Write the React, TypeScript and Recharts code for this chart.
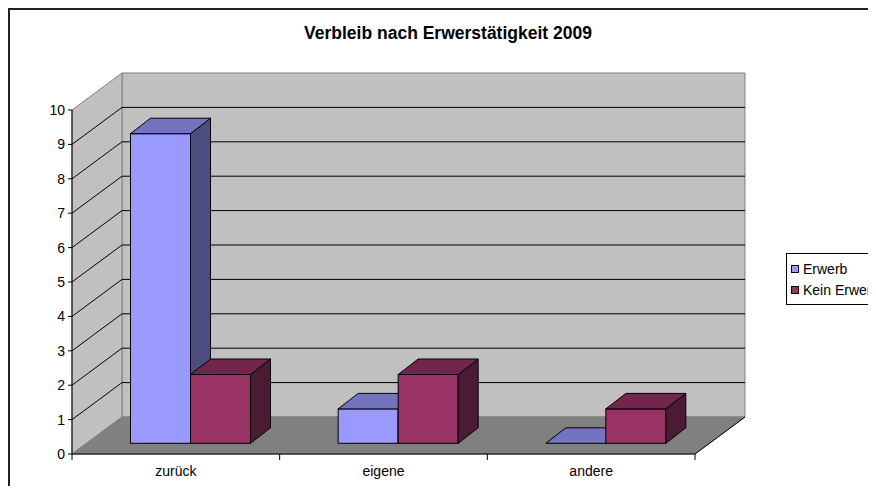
import React from 'react';
import { BarChart, Bar, XAxis, YAxis, Customized } from 'recharts';

const categories = ['zurück', 'eigene', 'andere'];
const erwerbValues = [9, 1, 0];
const keinErwerbValues = [2, 2, 1];
const seriesNames = ['Erwerb', 'Kein Erwerb'];
const yTicks = [0, 1, 2, 3, 4, 5, 6, 7, 8, 9, 10];
const title = 'Verbleib nach Erwerstätigkeit 2009';

const data = categories.map((c, i) => ({ name: c, erwerb: erwerbValues[i], kein: keinErwerbValues[i] }));

const FONT = 'Arial, "Liberation Sans", sans-serif';
const W = 876;
const H = 494;
const L = 72, R = 695, T = 110, B = 454;
const DX = 50, DY = -37;
const OX = 14.5, OY = -10.7;
const BDX = 20, BDY = -15.5;
const YMAX = 10;
const vy = (v: number) => B - ((B - T) * v) / YMAX;

const COLORS = {
  erwerb: { front: '#9999FF', top: '#7373C0', side: '#4D4D80' },
  kein: { front: '#993366', top: '#73264D', side: '#4D1A33' },
};
const seriesColors = [COLORS.erwerb.front, COLORS.kein.front];

const Walls = () => {
  const inner = yTicks.filter((v) => v > 0 && v < YMAX);
  const band = (R - L) / categories.length;
  const bounds = categories.map((_, i) => L + band * i).concat([R]);
  return (
    <g>
      <line x1={9} y1={8} x2={9} y2={H} stroke="#222" strokeWidth={2} />
      <line x1={8} y1={9} x2={W} y2={9} stroke="#222" strokeWidth={2} />
      <polygon
        points={`${L + DX},${vy(YMAX) + DY} ${R + DX},${vy(YMAX) + DY} ${R + DX},${B + DY} ${L + DX},${B + DY}`}
        fill="#C0C0C0"
        stroke="#808080"
      />
      <polygon
        points={`${L},${B} ${L},${vy(YMAX)} ${L + DX},${vy(YMAX) + DY} ${L + DX},${B + DY}`}
        fill="#C0C0C0"
        stroke="#808080"
      />
      <polygon
        points={`${L},${B} ${R},${B} ${R + DX},${B + DY} ${L + DX},${B + DY}`}
        fill="#808080"
        stroke="#808080"
      />
      <line x1={R} y1={B} x2={R + DX} y2={B + DY} stroke="#000" />
      {inner.map((v) => (
        <g key={v}>
          <line x1={L + DX} y1={vy(v) + DY} x2={R + DX} y2={vy(v) + DY} stroke="#000" />
          <line x1={L} y1={vy(v)} x2={L + DX} y2={vy(v) + DY} stroke="#000" />
        </g>
      ))}
      {bounds.map((bx, i) => (
        <line key={i} x1={bx} y1={B} x2={bx} y2={B + 6} stroke="#000" />
      ))}
      <text x={448} y={39} textAnchor="middle" fontFamily={FONT} fontWeight="bold" fontSize={17.5} fill="#000">
        {title}
      </text>
    </g>
  );
};

const makeShape = (c: { front: string; top: string; side: string }) => (props: any) => {
  const { x, y, width: w, height: h } = props;
  if (x == null || y == null) return null;
  const fx = x + OX;
  const fy = y + OY;
  const hh = Math.max(0, h || 0);
  return (
    <g>
      <rect x={fx} y={fy} width={w} height={hh} fill={c.front} stroke="#000" strokeWidth={1} />
      <polygon
        points={`${fx + w},${fy} ${fx + w + BDX},${fy + BDY} ${fx + w + BDX},${fy + hh + BDY} ${fx + w},${fy + hh}`}
        fill={c.side}
        stroke="#000"
        strokeWidth={1}
        strokeLinejoin="round"
      />
      <polygon
        points={`${fx},${fy} ${fx + w},${fy} ${fx + w + BDX},${fy + BDY} ${fx + BDX},${fy + BDY}`}
        fill={c.top}
        stroke="#000"
        strokeWidth={1}
        strokeLinejoin="round"
      />
    </g>
  );
};

const LegendBox = () => (
  <div
    style={{
      position: 'absolute',
      left: 786,
      top: 253,
      border: '1px solid #000',
      background: '#fff',
      padding: '4px 0 4px 4px',
      width: 120,
      fontFamily: FONT,
      fontSize: 14,
      color: '#000',
    }}
  >
    {seriesNames.map((n, i) => (
      <div key={i} style={{ display: 'flex', alignItems: 'center', height: 21, whiteSpace: 'nowrap' }}>
        <span
          style={{
            display: 'inline-block',
            width: 6,
            height: 6,
            background: seriesColors[i],
            border: '1px solid #000',
            marginRight: 4,
          }}
        />
        <span>{n}</span>
      </div>
    ))}
  </div>
);

export default function App() {
  return (
    <div style={{ margin: -8, width: W, height: H, overflow: 'hidden', position: 'relative', background: '#fff' }}>
      <div style={{ position: 'absolute', left: 0, top: 0 }}>
        <BarChart
          width={W}
          height={H}
          data={data}
          margin={{ top: T, right: W - R, bottom: H - B - 30, left: L - 60 }}
          barSize={60}
          barGap={0}
        >
          <Customized component={Walls} />
          <XAxis
            dataKey="name"
            height={30}
            interval={0}
            axisLine={{ stroke: '#000' }}
            tickLine={false}
            tickSize={0}
            tickMargin={12}
            tick={{ fill: '#000', fontSize: 14, fontFamily: FONT }}
          />
          <YAxis
            width={60}
            domain={[0, YMAX]}
            ticks={yTicks}
            interval={0}
            axisLine={{ stroke: '#000' }}
            tickLine={{ stroke: '#000' }}
            tickSize={4}
            tickMargin={3}
            tick={{ fill: '#000', fontSize: 14, fontFamily: FONT }}
          />
          <Bar dataKey="erwerb" name={seriesNames[0]} fill={COLORS.erwerb.front} shape={makeShape(COLORS.erwerb)} isAnimationActive={false} />
          <Bar dataKey="kein" name={seriesNames[1]} fill={COLORS.kein.front} shape={makeShape(COLORS.kein)} isAnimationActive={false} />
        </BarChart>
      </div>
      <LegendBox />
    </div>
  );
}
